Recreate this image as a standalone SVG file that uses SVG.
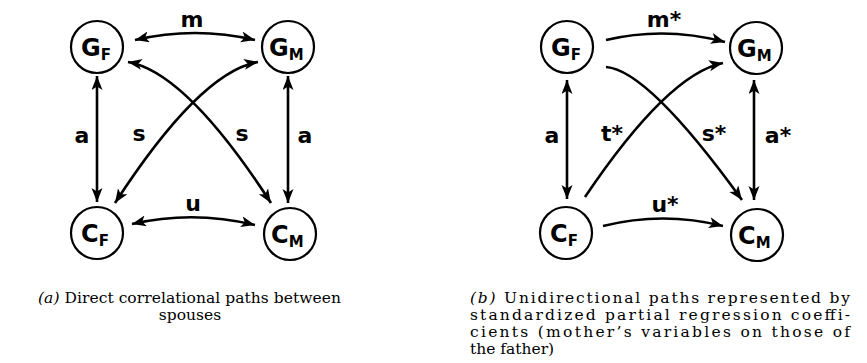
<svg xmlns="http://www.w3.org/2000/svg" width="867" height="363" viewBox="0 0 867 363">
<style>
.node circle{fill:#fff;stroke:#000;stroke-width:2.2}
.nl{font-family:"DejaVu Sans",sans-serif;font-weight:bold;font-size:24px;fill:#000}
.sub{font-size:15px}
.edge{fill:none;stroke:#000;stroke-width:2.6}
.lbl{font-family:"DejaVu Sans",sans-serif;font-weight:bold;font-size:22px;fill:#000;text-anchor:middle}
.cap{font-family:"DejaVu Serif",serif;font-size:15.5px;fill:#000}
</style>
<defs>
<marker id="ah" markerUnits="userSpaceOnUse" markerWidth="15" markerHeight="12" refX="14" refY="5.5" orient="auto-start-reverse">
<path d="M0,0 L14,5.5 L0,11 L3.5,5.5 z" fill="#000"/>
</marker>
</defs>
<g id="nodes-a">
<g id="GF_a" class="node"><circle cx="97" cy="47" r="26"/><text class="nl" x="81" y="56">G<tspan class="sub" dy="4">F</tspan></text></g>
<g id="GM_a" class="node"><circle cx="288" cy="47" r="26"/><text class="nl" x="269" y="56">G<tspan class="sub" dy="4">M</tspan></text></g>
<g id="CF_a" class="node"><circle cx="97" cy="233" r="26"/><text class="nl" x="81" y="242">C<tspan class="sub" dy="4">F</tspan></text></g>
<g id="CM_a" class="node"><circle cx="290" cy="234" r="26"/><text class="nl" x="271" y="243">C<tspan class="sub" dy="4">M</tspan></text></g>
</g>
<g id="nodes-b">
<g id="GF_b" class="node"><circle cx="567" cy="47" r="26"/><text class="nl" x="551" y="56">G<tspan class="sub" dy="4">F</tspan></text></g>
<g id="GM_b" class="node"><circle cx="756" cy="48" r="26"/><text class="nl" x="737" y="57">G<tspan class="sub" dy="4">M</tspan></text></g>
<g id="CF_b" class="node"><circle cx="566" cy="233" r="26"/><text class="nl" x="550" y="242">C<tspan class="sub" dy="4">F</tspan></text></g>
<g id="CM_b" class="node"><circle cx="757" cy="235" r="26"/><text class="nl" x="738" y="244">C<tspan class="sub" dy="4">M</tspan></text></g>
</g>
<g id="connectors">
<path class="edge" d="M135,40 Q195,26 255,40" marker-start="url(#ah)" marker-end="url(#ah)"/>
<path class="edge" d="M132,224 Q193,210 255,225" marker-start="url(#ah)" marker-end="url(#ah)"/>
<path class="edge" d="M97,76 L97,202" marker-start="url(#ah)" marker-end="url(#ah)"/>
<path class="edge" d="M288,76 L288,203" marker-start="url(#ah)" marker-end="url(#ah)"/>
<path class="edge" d="M115,203 Q200,72 258,62" marker-start="url(#ah)" marker-end="url(#ah)"/>
<path class="edge" d="M128,62 Q186,72 271,203" marker-start="url(#ah)" marker-end="url(#ah)"/>
<path class="edge" d="M606,40 Q665,26 725,42" marker-end="url(#ah)"/>
<path class="edge" d="M603,226 Q663,211 723,226" marker-end="url(#ah)"/>
<path class="edge" d="M567,80 L567,199" marker-start="url(#ah)" marker-end="url(#ah)"/>
<path class="edge" d="M754,80 L754,200" marker-start="url(#ah)" marker-end="url(#ah)"/>
<path class="edge" d="M585,197 Q668,74 723,63" marker-end="url(#ah)"/>
<path class="edge" d="M606,67 Q648,70 742,200" marker-end="url(#ah)"/>
</g>
<g id="labels">
<text class="lbl" x="192" y="27">m</text>
<text class="lbl" x="193" y="211">u</text>
<text class="lbl" x="82" y="143">a</text>
<text class="lbl" x="305" y="143">a</text>
<text class="lbl" x="139" y="141">s</text>
<text class="lbl" x="242" y="141">s</text>
<text class="lbl" x="664" y="27">m*</text>
<text class="lbl" x="665" y="212">u*</text>
<text class="lbl" x="552" y="143">a</text>
<text class="lbl" x="778" y="143">a*</text>
<text class="lbl" x="612" y="141">t*</text>
<text class="lbl" x="714" y="141">s*</text>
</g>
<g id="captions">
<text class="cap" x="38" y="303" textLength="303" lengthAdjust="spacing"><tspan font-style="italic">(a)</tspan> Direct correlational paths between</text>
<text class="cap" x="190" y="320" text-anchor="middle">spouses</text>
<text class="cap" x="470" y="303" textLength="380" lengthAdjust="spacing"><tspan font-style="italic">(b)</tspan> Unidirectional paths represented by</text>
<text class="cap" x="470" y="320" textLength="380" lengthAdjust="spacing">standardized partial regression coeffi-</text>
<text class="cap" x="470" y="337" textLength="380" lengthAdjust="spacing">cients (mother’s variables on those of</text>
<text class="cap" x="470" y="354">the father)</text>
</g>
</svg>
